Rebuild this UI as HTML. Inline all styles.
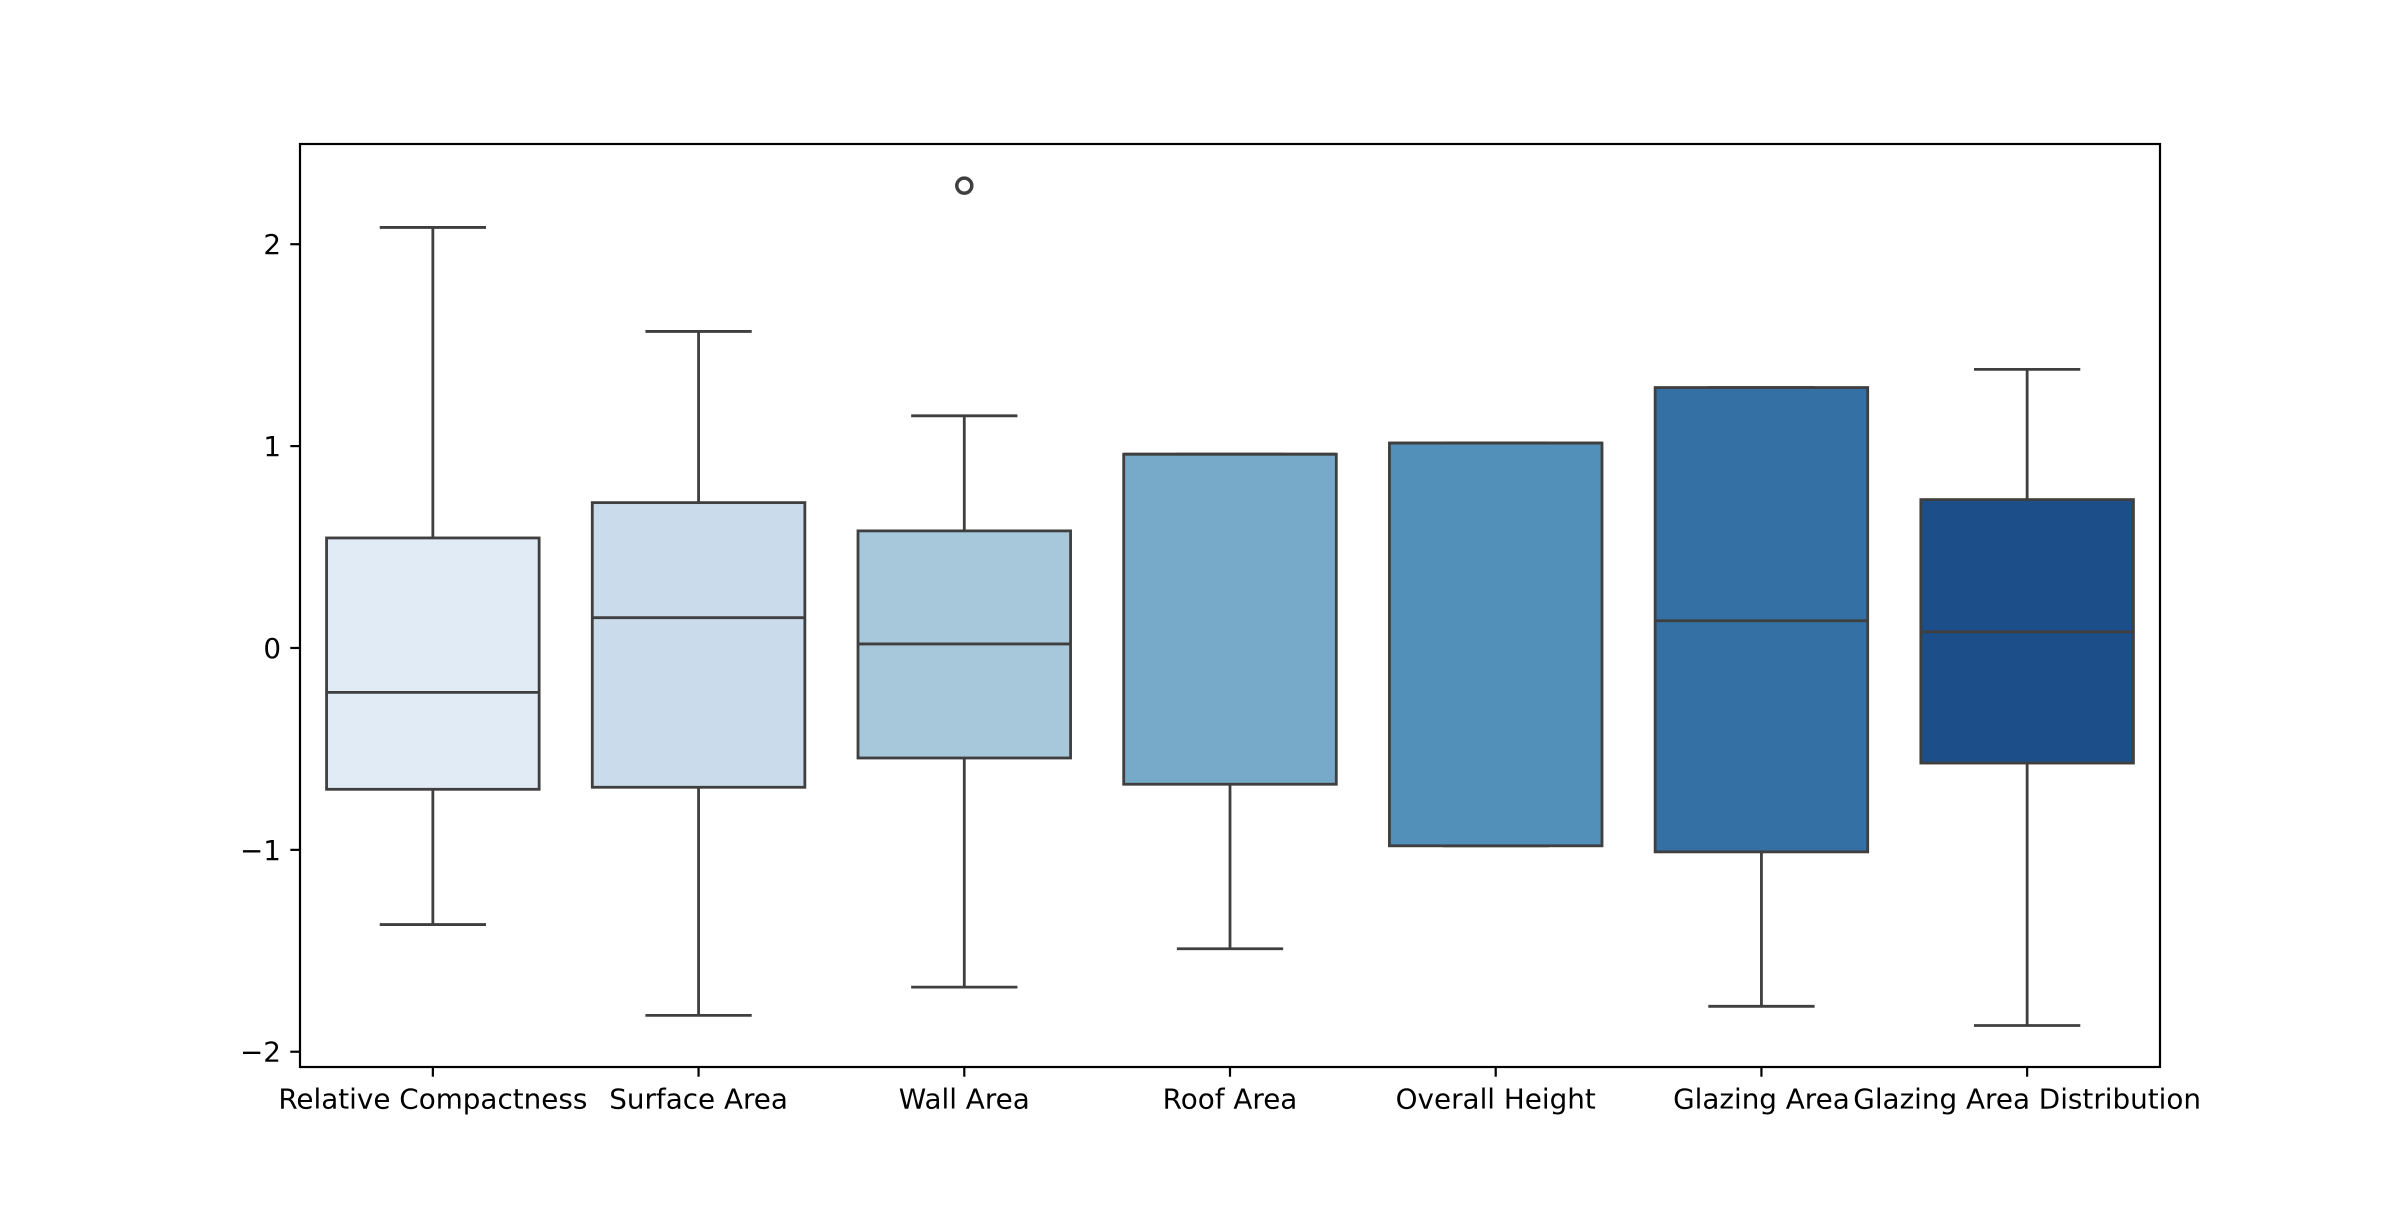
<!DOCTYPE html>
<html><head><meta charset="utf-8"><style>
html,body{margin:0;padding:0;background:#fff;}
svg text{font-family:"DejaVu Sans","Liberation Sans",sans-serif;font-size:27.8px;fill:#000;}
</style></head><body>
<svg id="chart" width="2400" height="1200" xmlns="http://www.w3.org/2000/svg"></svg>
<script>
const categories=["Relative Compactness","Surface Area","Wall Area","Roof Area","Overall Height","Glazing Area","Glazing Area Distribution"];
const whiskerLow=[-1.37,-1.82,-1.68,-1.49,-0.98,-1.775,-1.87];
const q1=[-0.70,-0.69,-0.545,-0.675,-0.98,-1.01,-0.57];
const medians=[-0.22,0.15,0.02,0.96,1.015,0.135,0.08];
const q3=[0.545,0.72,0.58,0.96,1.015,1.29,0.735];
const whiskerHigh=[2.083,1.568,1.15,0.96,1.015,1.29,1.38];
const outliers=[[],[],[2.29],[],[],[],[]];
const yTicks=[-2,-1,0,1,2];
const yTickLabels=["\u22122","\u22121","0","1","2"];
const colors=["#e1ebf5","#cadbeb","#a6c8da","#77a9c8","#528fb9","#3470a3","#1c4f89"];

const L=300,R=2160,T=144,B=1067;
const yMin=-2.0756,yMax=2.4964;
const y=v=>B-(v-yMin)/(yMax-yMin)*(B-T);
const step=(R-L)/categories.length;
const x=i=>L+step*(i+0.5);
const bw=step*0.8;
const svg=document.getElementById('chart');
const NS='http://www.w3.org/2000/svg';
function mk(tag,attrs,parent){const e=document.createElementNS(NS,tag);for(const k in attrs)e.setAttribute(k,attrs[k]);(parent||svg).appendChild(e);return e;}
const lc="#3f3f3f",lw=2.8;
categories.forEach((c,i)=>{
  const g=mk('g',{});
  
  
  const cx=x(i);
  mk('line',{x1:cx,x2:cx,y1:y(q3[i]),y2:y(whiskerHigh[i]),stroke:lc,'stroke-width':lw},g);
  mk('line',{x1:cx,x2:cx,y1:y(q1[i]),y2:y(whiskerLow[i]),stroke:lc,'stroke-width':lw},g);
  mk('line',{x1:cx-bw/4,x2:cx+bw/4,y1:y(whiskerHigh[i]),y2:y(whiskerHigh[i]),stroke:lc,'stroke-width':lw},g);
  mk('line',{x1:cx-bw/4,x2:cx+bw/4,y1:y(whiskerLow[i]),y2:y(whiskerLow[i]),stroke:lc,'stroke-width':lw},g);
  mk('rect',{x:cx-bw/2,y:y(q3[i]),width:bw,height:y(q1[i])-y(q3[i]),fill:colors[i],stroke:lc,'stroke-width':lw},g);
  mk('line',{x1:cx-bw/2,x2:cx+bw/2,y1:y(medians[i]),y2:y(medians[i]),stroke:lc,'stroke-width':lw},g);
  outliers[i].forEach(o=>{
    const p=mk('circle',{cx:cx,cy:y(o),r:7.5,fill:'none',stroke:lc,'stroke-width':3.5},g);
    
    
  });
  mk('line',{x1:cx,x2:cx,y1:B,y2:B+9.7,stroke:'#000','stroke-width':2.2});
  const t=mk('text',{x:cx,y:B+41.5,'text-anchor':'middle'});
  t.textContent=c;
  
  
});
yTicks.forEach((v,i)=>{
  mk('line',{x1:L-9.7,x2:L,y1:y(v),y2:y(v),stroke:'#000','stroke-width':2.2});
  const t=mk('text',{x:L-19,y:y(v)+10,'text-anchor':'end'});
  t.textContent=yTickLabels[i];
  
  
});
const f=mk('rect',{x:L,y:T,width:R-L,height:B-T,fill:'none',stroke:'#000','stroke-width':2.2});


</script>
</body></html>
